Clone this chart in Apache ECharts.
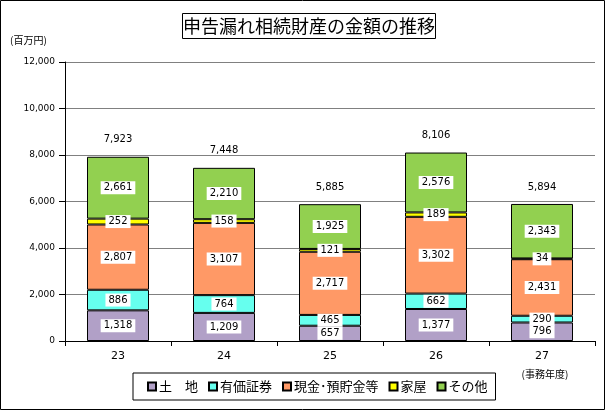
<!DOCTYPE html>
<html><head><meta charset="utf-8">
<script src="https://cdn.jsdelivr.net/npm/echarts@6/dist/echarts.min.js"></script>
<style>html,body{margin:0;padding:0;background:#fff}#c{width:606px;height:411px;box-sizing:border-box}</style>
</head><body><div id="c"></div>
<script>
const categories = ['23','24','25','26','27'];
const seriesNames = ['土\u3000地','有価証券','現金･預貯金等','家屋','その他'];
const land = [1318, 1209, 657, 1377, 796];
const securities = [886, 764, 465, 662, 290];
const cash = [2807, 3107, 2717, 3302, 2431];
const house = [252, 158, 121, 189, 34];
const other = [2661, 2210, 1925, 2576, 2343];
const totals = [7923, 7448, 5885, 8106, 5894];
const yTicks = [0, 2000, 4000, 6000, 8000, 10000, 12000];

const colors = ['#B1A0C7', '#66FFEE', '#FF9966', '#FFFF00', '#92D050'];
const fmt = v => v.toLocaleString('en-US');
const numFont = 'DejaVu Sans, Verdana, sans-serif';
const jpFont = 'Noto Sans CJK JP, sans-serif';

function mk(name, data, i) {
  return {
    name, type: 'bar', stack: 's', data, barWidth: 62,
    itemStyle: { color: colors[i], borderColor: '#000', borderWidth: 1 },
    label: {
      show: true, position: 'inside', formatter: p => fmt(p.value),
      backgroundColor: '#fff', color: '#000', padding: [2, 3, 1, 3],
      fontFamily: numFont, fontSize: 10
    }
  };
}
const chart = echarts.init(document.getElementById('c'));
chart.setOption({
  animation: false,
  graphic: [
    { type: 'rect', shape: { x: 0.5, y: 0.5, width: 604, height: 409 }, style: { fill: 'none', stroke: '#000', lineWidth: 1 } },
    { type: 'rect', shape: { x: 182.5, y: 13.5, width: 253, height: 25 }, style: { fill: '#fff', stroke: '#000', lineWidth: 1 } },
    { type: 'text', x: 309, y: 26, style: { text: '申告漏れ相続財産の金額の推移', font: '18px ' + jpFont, fill: '#000', textAlign: 'center', textVerticalAlign: 'middle' } },
    { type: 'text', x: 10, y: 40, style: { text: '(百万円)', font: '10px ' + jpFont, fill: '#000', textVerticalAlign: 'middle' } },
    { type: 'text', x: 545, y: 374, style: { text: '(事務年度)', font: '10px ' + jpFont, fill: '#000', textAlign: 'center', textVerticalAlign: 'middle' } }
  ],
  grid: { left: 65, right: 11, top: 62, bottom: 70 },
  legend: {
    data: seriesNames, left: 133, top: 373,
    borderColor: '#000', borderWidth: 1, padding: [7, 8, 7, 14],
    itemWidth: 8, itemHeight: 8, itemGap: 10, icon: 'rect',
    textStyle: { fontFamily: jpFont, fontSize: 13, color: '#000', padding: [0, 0, 0, -2] }
  },
  xAxis: {
    type: 'category', data: categories,
    axisLine: { lineStyle: { color: '#000' } },
    axisTick: { show: true, length: 5, lineStyle: { color: '#000' } },
    axisLabel: { color: '#000', fontFamily: numFont, fontSize: 11, margin: 10 }
  },
  yAxis: {
    type: 'value', min: 0, max: 12000, interval: 2000,
    axisLine: { show: true, lineStyle: { color: '#000' } },
    axisTick: { show: true, length: 6, lineStyle: { color: '#000' } },
    splitLine: { lineStyle: { color: '#808080' } },
    axisLabel: { color: '#000', fontFamily: numFont, fontSize: 9, margin: 10, formatter: v => fmt(v) }
  },
  series: [
    mk(seriesNames[0], land, 0),
    mk(seriesNames[1], securities, 1),
    mk(seriesNames[2], cash, 2),
    mk(seriesNames[3], house, 3),
    mk(seriesNames[4], other, 4),
    {
      name: 'total', type: 'bar', stack: 's', data: totals.map(() => 0), barWidth: 62,
      itemStyle: { color: 'transparent' },
      label: { show: true, position: 'top', distance: 12, formatter: p => fmt(totals[p.dataIndex]), color: '#000', fontFamily: numFont, fontSize: 10 },
      legendHoverLink: false
    }
  ]
});
</script></body></html>
